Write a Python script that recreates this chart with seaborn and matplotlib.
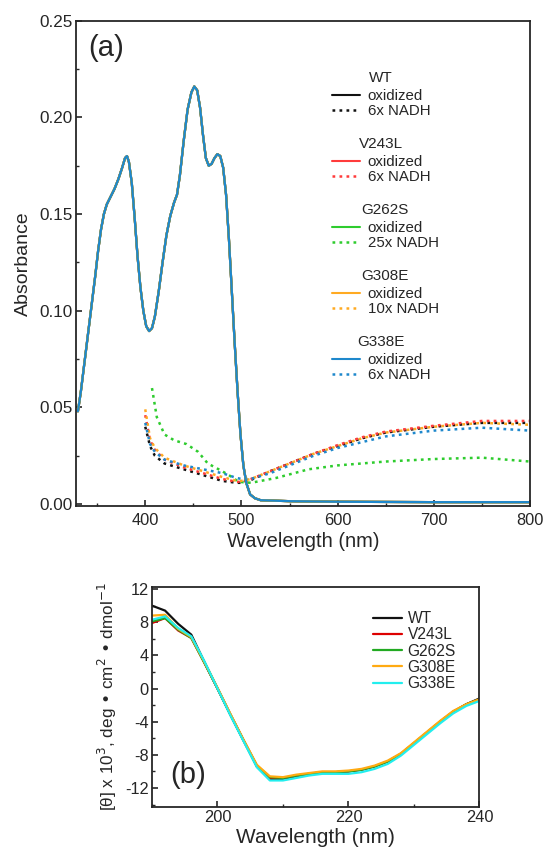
import numpy as np
import pandas as pd
import matplotlib
matplotlib.use("Agg")
import matplotlib.pyplot as plt
import seaborn as sns
from matplotlib.lines import Line2D
from matplotlib.ticker import MultipleLocator

# ---------------- Panel (a) data ----------------
variants = ["WT", "V243L", "G262S", "G308E", "G338E"]
nadh_labels = ["6x NADH", "6x NADH", "25x NADH", "10x NADH", "6x NADH"]
colors_a = ["#111111", "#FF3B3B", "#2ECC2E", "#FFAA22", "#1E88CC"]

ox_wl = [330, 333, 336, 340, 344, 348, 351, 354, 357, 360, 364, 368, 372, 376, 379, 381,
         383, 386, 389, 392, 395, 398, 401, 404, 407, 410, 414, 418, 422, 426, 430, 433,
         436, 440, 444, 448, 451, 454, 457, 460, 463, 466, 469, 472, 475, 478, 481, 484,
         487, 490, 493, 496, 499, 502, 505, 509, 514, 520, 550, 600, 700, 800]
ox_abs = [0.048, 0.058, 0.070, 0.086, 0.102, 0.118, 0.131, 0.142, 0.150, 0.155, 0.159,
          0.163, 0.168, 0.174, 0.179, 0.180, 0.177, 0.166, 0.148, 0.128, 0.112, 0.100,
          0.092, 0.0895, 0.091, 0.097, 0.110, 0.125, 0.139, 0.149, 0.156, 0.160, 0.170,
          0.188, 0.204, 0.213, 0.216, 0.214, 0.205, 0.191, 0.179, 0.175, 0.176, 0.179,
          0.181, 0.180, 0.174, 0.160, 0.137, 0.110, 0.083, 0.058, 0.036, 0.020, 0.011,
          0.005, 0.003, 0.002, 0.0015, 0.0012, 0.001, 0.001]

nadh_wl_std = [400, 405, 410, 420, 440, 460, 480, 495, 500, 510, 530, 550, 575, 600, 625,
               650, 700, 750, 800]
wt_nadh = [0.040, 0.030, 0.025, 0.021, 0.018, 0.015, 0.012, 0.011, 0.011, 0.0125, 0.017,
           0.021, 0.026, 0.030, 0.034, 0.037, 0.040, 0.042, 0.042]
v243l_nadh = [0.046, 0.033, 0.028, 0.023, 0.019, 0.016, 0.013, 0.0115, 0.0115, 0.013, 0.017,
              0.021, 0.026, 0.0305, 0.0345, 0.0375, 0.0405, 0.043, 0.043]
g308e_nadh = [0.049, 0.034, 0.029, 0.024, 0.020, 0.017, 0.014, 0.012, 0.012, 0.013, 0.017,
              0.021, 0.026, 0.030, 0.034, 0.037, 0.040, 0.042, 0.041]
g338e_nadh = [0.042, 0.031, 0.027, 0.023, 0.020, 0.018, 0.016, 0.0135, 0.013, 0.013, 0.016,
              0.020, 0.025, 0.029, 0.032, 0.035, 0.038, 0.0395, 0.038]
g262s_wl = [407, 412, 420, 430, 443, 455, 465, 480, 490, 497, 510, 536, 570, 600, 650, 700,
            750, 800]
g262s_nadh = [0.060, 0.045, 0.036, 0.033, 0.031, 0.027, 0.021, 0.017, 0.014, 0.0115, 0.011,
              0.0135, 0.018, 0.020, 0.022, 0.0233, 0.024, 0.022]

nadh_wl = [nadh_wl_std, nadh_wl_std, g262s_wl, nadh_wl_std, nadh_wl_std]
nadh_vals = [wt_nadh, v243l_nadh, g262s_nadh, g308e_nadh, g338e_nadh]

# ---------------- Panel (b) data ----------------
cd_wl = [190, 192, 194, 196, 198, 200, 202, 204, 206, 208, 210, 212, 214, 216, 218, 220,
         222, 224, 226, 228, 230, 232, 234, 236, 238, 240]
cd_wt = [10.0, 9.4, 7.8, 6.5, 3.2, 0.0, -3.2, -6.3, -9.4, -10.9, -10.9, -10.6, -10.3, -10.1,
         -10.1, -10.0, -9.8, -9.4, -8.8, -7.9, -6.6, -5.3, -4.0, -2.8, -1.9, -1.2]
cd_v243l = [7.9, 8.5, 7.0, 6.1, 3.1, 0.0, -3.2, -6.3, -9.3, -10.8, -10.8, -10.5, -10.3, -10.1,
            -10.1, -10.0, -9.8, -9.4, -8.8, -7.9, -6.6, -5.3, -4.0, -2.8, -1.9, -1.3]
cd_g262s = [8.1, 8.5, 7.1, 6.1, 3.1, 0.0, -3.2, -6.3, -9.3, -10.7, -10.8, -10.5, -10.3, -10.1,
            -10.1, -10.0, -9.8, -9.4, -8.8, -7.9, -6.6, -5.3, -4.0, -2.8, -1.9, -1.3]
cd_g308e = [8.8, 8.9, 7.2, 6.2, 3.2, 0.1, -3.1, -6.2, -9.2, -10.6, -10.7, -10.4, -10.2, -10.0,
            -10.0, -9.9, -9.7, -9.3, -8.7, -7.8, -6.5, -5.2, -3.9, -2.7, -1.9, -1.3]
cd_g338e = [8.3, 8.7, 7.3, 6.3, 3.3, 0.0, -3.3, -6.4, -9.5, -11.1, -11.1, -10.8, -10.5, -10.3,
            -10.3, -10.3, -10.1, -9.7, -9.1, -8.1, -6.8, -5.5, -4.2, -3.0, -2.1, -1.5]
cd_vals = [cd_wt, cd_v243l, cd_g262s, cd_g308e, cd_g338e]
colors_b = ["#111111", "#DD0000", "#22AA22", "#FFAA11", "#22EEEE"]

# ---------------- Style ----------------
sns.set_style("ticks")
plt.rcParams['font.family'] = ['Liberation Sans', 'DejaVu Sans']
plt.rcParams['axes.linewidth'] = 1.3
plt.rcParams['axes.unicode_minus'] = False

DOT = (0, (1.1, 1.7))

fig = plt.figure(figsize=(5.44, 8.5), dpi=100)
ax1 = fig.add_axes([0.1397, 0.4047, 0.8346, 0.5709])
ax2 = fig.add_axes([0.2794, 0.0506, 0.6020, 0.2588])

# Panel (a): reduced (NADH) spectra, dotted
for i, v in enumerate(variants):
    df_n = pd.DataFrame({"wl": nadh_wl[i], "abs": nadh_vals[i]})
    sns.lineplot(data=df_n, x="wl", y="abs", ax=ax1, color=colors_a[i], lw=1.8,
                 sort=False, legend=False, linestyle=DOT)
# oxidized spectra (overlapping), G338E last on top
for i, v in enumerate(variants):
    df_ox = pd.DataFrame({"wl": ox_wl, "abs": ox_abs})
    sns.lineplot(data=df_ox, x="wl", y="abs", ax=ax1, color=colors_a[i], lw=1.6,
                 sort=False, legend=False)

ax1.set_xlim(328, 800)
ax1.set_ylim(-0.001, 0.25)
ax1.xaxis.set_major_locator(MultipleLocator(100))
ax1.xaxis.set_minor_locator(MultipleLocator(50))
ax1.yaxis.set_major_locator(MultipleLocator(0.05))
ax1.yaxis.set_minor_locator(MultipleLocator(0.025))
ax1.yaxis.set_major_formatter(matplotlib.ticker.FormatStrFormatter('%.2f'))
ax1.tick_params(axis='both', which='both', direction='in')
ax1.tick_params(axis='both', which='major', length=4, width=1.2)
ax1.tick_params(axis='both', which='minor', length=2.5, width=1.0)
ax1.tick_params(axis='y', which='major', pad=2.5, labelsize=12.3)
ax1.tick_params(axis='x', which='major', pad=5, labelsize=11.8)
ax1.set_xlabel("Wavelength (nm)", fontsize=14.5, labelpad=3)
ax1.set_ylabel("Absorbance", fontsize=14, labelpad=5)
ax1.text(0.027, 0.944, "(a)", transform=ax1.transAxes, fontsize=21, ha='left', va='center')

# grouped legends
legs = []
for i, v in enumerate(variants):
    handles = [Line2D([], [], color=colors_a[i], lw=1.5),
               Line2D([], [], color=colors_a[i], lw=1.8, linestyle=DOT)]
    leg = ax1.legend(handles, ["oxidized", nadh_labels[i]], title=v, frameon=False,
                     loc='upper left', bbox_to_anchor=(0.563, 0.897 - i * 0.136),
                     fontsize=10.8, title_fontsize=11, handlelength=1.9,
                     handletextpad=0.5, labelspacing=0.1, borderpad=0.0,
                     borderaxespad=0.0)
    leg._legend_box.sep = 3
    legs.append(leg)
for leg in legs[:-1]:
    ax1.add_artist(leg)

# Panel (b)
for i, v in enumerate(variants):
    df_cd = pd.DataFrame({"wl": cd_wl, "theta": cd_vals[i]})
    sns.lineplot(data=df_cd, x="wl", y="theta", ax=ax2, color=colors_b[i], lw=1.6,
                 sort=False, label=v)
ax2.set_xlim(190, 240)
ax2.set_ylim(-14.3, 12.25)
ax2.xaxis.set_major_locator(MultipleLocator(20))
ax2.xaxis.set_minor_locator(MultipleLocator(10))
ax2.yaxis.set_major_locator(MultipleLocator(4))
ax2.yaxis.set_minor_locator(MultipleLocator(2))
ax2.tick_params(axis='both', which='both', direction='in')
ax2.tick_params(axis='both', which='major', labelsize=11.8, length=4, width=1.2, pad=2.5)
ax2.tick_params(axis='both', which='minor', length=2.5, width=1.0)
ax2.set_xlabel("Wavelength (nm)", fontsize=15, labelpad=1.5)
ax2.set_ylabel("[θ] x 10$^3$, deg • cm$^2$ • dmol$^{-1}$", fontsize=12.3, labelpad=4)
ax2.text(0.055, 0.144, "(b)", transform=ax2.transAxes, fontsize=21, ha='left', va='center')
ax2.legend(frameon=False, loc='upper left', bbox_to_anchor=(0.674, 0.89), fontsize=11.2,
           handlelength=1.9, handletextpad=0.35, labelspacing=0.08, borderpad=0.0,
           borderaxespad=0.0)

fig.savefig("out.png", dpi=100)
